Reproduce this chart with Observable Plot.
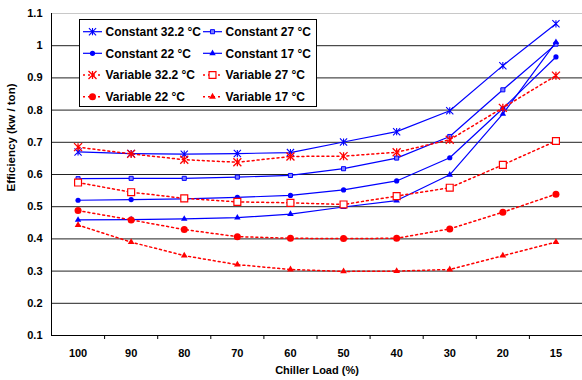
<!DOCTYPE html>
<html><head><meta charset="utf-8">
<script src="https://cdn.jsdelivr.net/npm/d3@7"></script>
<script src="https://cdn.jsdelivr.net/npm/@observablehq/plot@0.6"></script>
<style>
body{margin:0;background:#fff;}
#wrap{position:relative;width:582px;height:380px;font-family:Arial,"Liberation Sans",sans-serif;}
#legend{position:absolute;left:79px;top:19px;}
</style></head><body><div id="wrap"></div>
<script>
const loads = ["100","90","80","70","60","50","40","30","20","15"];
const yTicks = [0.1,0.2,0.3,0.4,0.5,0.6,0.7,0.8,0.9,1.0,1.1];
const seriesNames = ["Constant 32.2 °C","Constant 27 °C","Constant 22 °C","Constant 17 °C",
  "Variable 32.2 °C","Variable 27 °C","Variable 22 °C","Variable 17 °C"];
const constant322 = [0.670,0.665,0.663,0.665,0.668,0.701,0.733,0.798,0.938,1.068];
const constant27  = [0.587,0.588,0.588,0.592,0.597,0.618,0.651,0.718,0.863,1.005];
const constant22  = [0.520,0.522,0.524,0.529,0.535,0.552,0.580,0.652,0.805,0.965];
const constant17  = [0.459,0.460,0.462,0.466,0.477,0.499,0.519,0.599,0.788,1.011];
const variable322 = [0.685,0.664,0.646,0.638,0.656,0.657,0.669,0.708,0.807,0.907];
const variable27  = [0.575,0.545,0.526,0.515,0.512,0.507,0.533,0.559,0.630,0.704];
const variable22  = [0.488,0.459,0.429,0.407,0.402,0.401,0.402,0.431,0.483,0.539];
const variable17  = [0.443,0.390,0.348,0.320,0.305,0.299,0.300,0.305,0.348,0.390];

const excelAsterisk = {
  draw(ctx, size) {
    const r = Math.sqrt(size / Math.PI);
    ctx.moveTo(-r, -r); ctx.lineTo(r, r);
    ctx.moveTo(-r, r); ctx.lineTo(r, -r);
    ctx.moveTo(0, -r); ctx.lineTo(0, r);
  }
};
const BLUE = "#0000ff", RED = "#ff0000";
const styles = [
  {values: constant322, color: BLUE, dash: null, symbol: excelAsterisk, r: 3.6, fill: "none", stroke: BLUE, sw: 1.1},
  {values: constant27,  color: BLUE, dash: null, symbol: d3.symbolSquare, r: 2.3, fill: "#7f7fff", stroke: BLUE, sw: 1},
  {values: constant22,  color: BLUE, dash: null, symbol: d3.symbolCircle, r: 2.6, fill: BLUE, stroke: "none", sw: 0},
  {values: constant17,  color: BLUE, dash: null, symbol: d3.symbolTriangle, r: 2.4, fill: BLUE, stroke: "none", sw: 0},
  {values: variable322, color: RED, dash: "2,3", symbol: excelAsterisk, r: 4, fill: "none", stroke: RED, sw: 1.3},
  {values: variable27,  color: RED, dash: "2,3", symbol: d3.symbolSquare, r: 3.9, fill: "#fff", stroke: RED, sw: 1.2},
  {values: variable22,  color: RED, dash: "2,3", symbol: d3.symbolCircle, r: 3.5, fill: RED, stroke: "none", sw: 0},
  {values: variable17,  color: RED, dash: "2,3", symbol: d3.symbolTriangle, r: 2.5, fill: RED, stroke: "none", sw: 0}
];

const seriesMarks = [];
styles.forEach((s, k) => {
  const rows = s.values.map((v, i) => ({x: i + 0.5, y: v, load: loads[i], series: seriesNames[k]}));
  seriesMarks.push(Plot.line(rows, {x: "x", y: "y", stroke: s.color, strokeWidth: s.dash ? 1.5 : 1.2, strokeDasharray: s.dash || undefined}));
  seriesMarks.push(Plot.dot(rows, {x: "x", y: "y", symbol: () => s.symbol, r: s.r, fill: s.fill, stroke: s.stroke, strokeWidth: s.sw}));
});

const centers = loads.map((d, i) => i + 0.5);
const chart = Plot.plot({
  width: 582, height: 380,
  marginLeft: 51, marginRight: 0, marginTop: 13, marginBottom: 45,
  style: {fontFamily: "Arial, 'Liberation Sans', sans-serif", fontSize: "11px", fontWeight: "bold", color: "#000", background: "#fff"},
  x: {domain: [0, 10], axis: null},
  y: {domain: [0.1, 1.1], axis: null},
  symbol: {type: "identity"},
  marks: [
    Plot.ruleY(yTicks.filter(d => d > 0.15 && d < 1.05), {stroke: "#222", strokeWidth: 1}),
    Plot.ruleY([1.1], {stroke: "#c8c8c8"}),
    Plot.ruleY([0.1], {stroke: "#000"}),
    Plot.ruleX([0], {stroke: "#000"}),
    Plot.axisY({ticks: yTicks, tickSize: 0, tickPadding: 9, tickFormat: d => String(+d.toFixed(1)), label: null, fill: "#000"}),
    Plot.axisX({ticks: d3.range(1, 11), tickSize: 4, tickFormat: () => "", label: null, stroke: "#000"}),
    Plot.axisX({ticks: centers, tickSize: 0, tickPadding: 14, tickFormat: d => loads[Math.floor(d)], label: null, fill: "#000"}),
    Plot.text(["Chiller Load (%)"], {frameAnchor: "bottom", dy: 38, fill: "#000", fontWeight: "bold", fontSize: 11}),
    Plot.text(["Efficiency (kw / ton)"], {frameAnchor: "left", rotate: -90, dx: -40, dy: 17, fill: "#000", fontWeight: "bold", fontSize: 11.5}),
    ...seriesMarks
  ]
});
const wrap = document.getElementById("wrap");
wrap.appendChild(chart);

// legend
const lw = 238, lh = 88;
const leg = d3.select(wrap).append("svg").attr("id", "legend").attr("width", lw).attr("height", lh)
  .style("font-family", "Arial, 'Liberation Sans', sans-serif").style("font-size", "12px").style("font-weight", "bold");
leg.append("rect").attr("x", 0.5).attr("y", 0.5).attr("width", lw - 1).attr("height", lh - 1).attr("fill", "#fff").attr("stroke", "#000");
const rowY = [12.7, 34.3, 56, 77.7];
const colX = [4, 124];
styles.forEach((s, k) => {
  const row = Math.floor(k / 2), col = k % 2;
  const y = rowY[row], x0 = colX[col];
  const g = leg.append("g");
  g.append("line").attr("x1", x0).attr("x2", x0 + 19).attr("y1", y).attr("y2", y)
    .attr("stroke", s.color).attr("stroke-width", s.dash ? 1.5 : 1.2).attr("stroke-dasharray", s.dash);
  g.append("path").attr("transform", `translate(${x0 + 9.5},${y})`)
    .attr("d", d3.symbol(s.symbol, Math.PI * s.r * s.r)())
    .attr("fill", s.fill).attr("stroke", s.stroke).attr("stroke-width", s.sw);
  g.append("text").attr("x", x0 + 22.5).attr("y", y).attr("dy", "0.35em").attr("fill", "#000").text(seriesNames[k]);
});
</script></body></html>
